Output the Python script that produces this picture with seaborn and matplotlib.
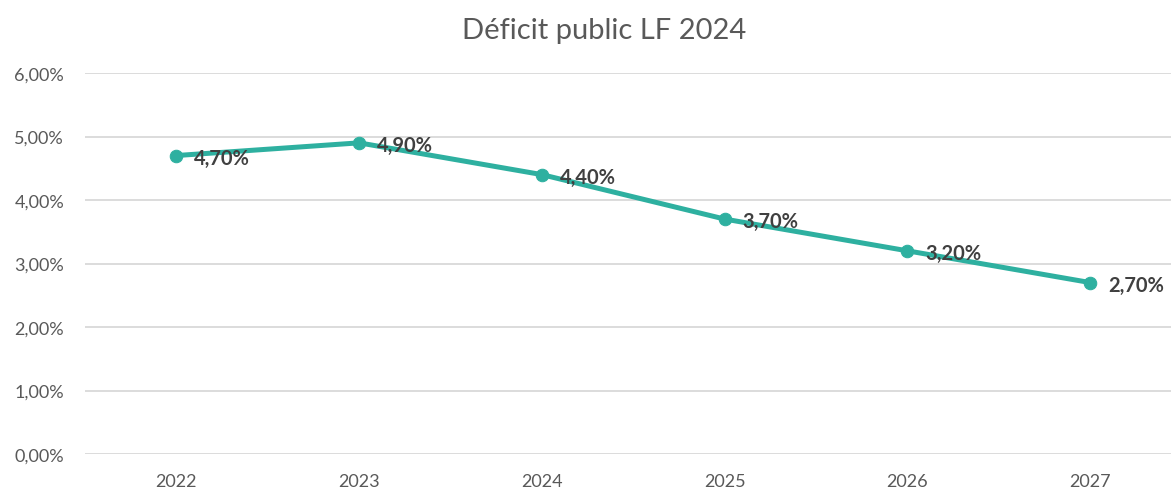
import numpy as np
import pandas as pd
import seaborn as sns
import matplotlib.pyplot as plt
from matplotlib.ticker import FuncFormatter

# values
years = ["2022", "2023", "2024", "2025", "2026", "2027"]
deficit = [4.7, 4.9, 4.4, 3.7, 3.2, 2.7]
y_ticks = [0, 1, 2, 3, 4, 5, 6]

df = pd.DataFrame({"annee": years, "deficit": deficit})

sns.set_style("white")
plt.rcParams['font.family'] = ['Lato', 'DejaVu Sans']

teal = "#2EB0A0"
grey_txt = "#595959"

fig = plt.figure(figsize=(11.71, 4.89), dpi=100)
ax = fig.add_axes([85 / 1171, 1 - 455 / 489, 1 - 85 / 1171, (455 - 74) / 489])

sns.lineplot(data=df, x="annee", y="deficit", ax=ax, sort=False,
             color=teal, linewidth=3.6, marker="o", markersize=9,
             markeredgecolor=teal, zorder=3)

ax.set_ylim(0, 6)
ax.set_xlim(-0.5, 5.443)
ax.set_yticks(y_ticks)
ax.yaxis.set_major_formatter(FuncFormatter(lambda v, p: f"{v:.2f}".replace(".", ",") + "%"))
ax.grid(axis="y", color="#D9D9D9", linewidth=1.3, zorder=0)
ax.set_axisbelow(True)
for s in ax.spines.values():
    s.set_visible(False)
ax.tick_params(axis="both", length=0, labelsize=13, labelcolor=grey_txt)
ax.tick_params(axis="y", pad=15)
ax.tick_params(axis="x", pad=14)
ax.set_xlabel("")
ax.set_ylabel("")

for i, v in enumerate(deficit):
    ax.annotate(f"{v:.2f}".replace(".", ",") + "%", (i, v), xytext=(13, -1.5),
                textcoords="offset points", ha="left", va="center",
                fontsize=14.5, fontweight="bold", color="#404040", zorder=4)

fig.suptitle("Déficit public LF 2024", x=0.516, y=0.963, fontsize=21, color=grey_txt)

fig.savefig("out.png", dpi=100)
